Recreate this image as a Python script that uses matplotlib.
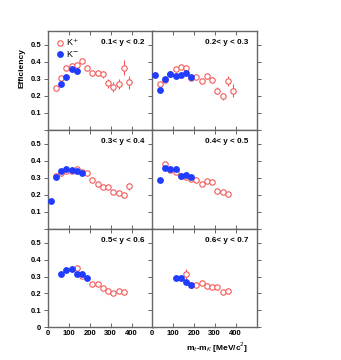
import matplotlib
matplotlib.use("Agg")
import matplotlib.pyplot as plt

plt.rcParams['font.family'] = ['Liberation Sans', 'DejaVu Sans']

labels = ["0.1< y < 0.2", "0.2< y < 0.3", "0.3< y < 0.4",
          "0.4< y < 0.5", "0.5< y < 0.6", "0.6< y < 0.7"]

# K+ (open red) per panel
kp_x = [
    [37.5, 62.5, 87.5, 112.5, 137.5, 162.5, 187.5, 212.5, 237.5, 262.5, 287.5, 312.5, 337.5, 362.5, 387.5],
    [37.5, 62.5, 87.5, 112.5, 137.5, 162.5, 187.5, 212.5, 237.5, 262.5, 287.5, 312.5, 337.5, 362.5, 387.5],
    [37.5, 62.5, 87.5, 112.5, 137.5, 162.5, 187.5, 212.5, 237.5, 262.5, 287.5, 312.5, 337.5, 362.5, 387.5],
    [62.5, 87.5, 112.5, 137.5, 162.5, 187.5, 212.5, 237.5, 262.5, 287.5, 312.5, 337.5, 362.5],
    [137.5, 162.5, 212.5, 237.5, 262.5, 287.5, 312.5, 337.5, 362.5],
    [162.5, 187.5, 212.5, 237.5, 262.5, 287.5, 312.5, 337.5, 362.5],
]
kp_y = [
    [0.243, 0.306, 0.363, 0.373, 0.383, 0.405, 0.365, 0.332, 0.332, 0.326, 0.272, 0.250, 0.268, 0.365, 0.278],
    [0.266, 0.290, 0.330, 0.360, 0.371, 0.363, 0.305, 0.308, 0.284, 0.314, 0.294, 0.230, 0.195, 0.288, 0.230],
    [0.313, 0.330, 0.340, 0.342, 0.349, 0.336, 0.330, 0.287, 0.262, 0.243, 0.247, 0.218, 0.208, 0.199, 0.249],
    [0.384, 0.345, 0.334, 0.310, 0.303, 0.293, 0.287, 0.264, 0.283, 0.272, 0.224, 0.218, 0.204],
    [0.348, 0.303, 0.253, 0.253, 0.233, 0.212, 0.204, 0.212, 0.208],
    [0.315, 0.249, 0.247, 0.259, 0.245, 0.239, 0.237, 0.208, 0.212],
]
kp_err = [
    [0.008, 0.008, 0.008, 0.008, 0.008, 0.008, 0.010, 0.015, 0.015, 0.020, 0.025, 0.028, 0.030, 0.045, 0.040],
    [0.008, 0.008, 0.008, 0.008, 0.008, 0.008, 0.010, 0.010, 0.012, 0.018, 0.015, 0.022, 0.022, 0.030, 0.040],
    [0.006, 0.006, 0.006, 0.006, 0.006, 0.006, 0.006, 0.008, 0.008, 0.008, 0.008, 0.008, 0.010, 0.012, 0.022],
    [0.010, 0.006, 0.006, 0.006, 0.006, 0.006, 0.006, 0.008, 0.008, 0.008, 0.008, 0.008, 0.008],
    [0.010, 0.006, 0.006, 0.006, 0.006, 0.006, 0.006, 0.006, 0.006],
    [0.030, 0.008, 0.006, 0.006, 0.006, 0.006, 0.006, 0.006, 0.006],
]

# K- (filled blue) per panel
km_x = [
    [62.5, 87.5, 112.5, 137.5],
    [12.5, 37.5, 62.5, 87.5, 112.5, 137.5, 162.5, 187.5],
    [12.5, 37.5, 62.5, 87.5, 112.5, 137.5, 162.5],
    [37.5, 62.5, 87.5, 112.5, 137.5, 162.5, 187.5],
    [62.5, 87.5, 112.5, 137.5, 162.5, 187.5],
    [112.5, 137.5, 162.5, 187.5],
]
km_y = [
    [0.268, 0.310, 0.357, 0.344],
    [0.320, 0.235, 0.298, 0.330, 0.314, 0.322, 0.332, 0.308],
    [0.162, 0.303, 0.340, 0.349, 0.345, 0.342, 0.326],
    [0.287, 0.359, 0.349, 0.349, 0.313, 0.316, 0.305],
    [0.315, 0.339, 0.346, 0.317, 0.313, 0.290],
    [0.292, 0.292, 0.270, 0.249],
]

xticks = [0, 100, 200, 300, 400]
yticks = [0, 0.1, 0.2, 0.3, 0.4, 0.5]

RED = '#f25a5a'
BLUE = '#1f3cff'
FRAME = '#666666'

W, H = 341, 360
fig = plt.figure(figsize=(W / 100, H / 100), dpi=100)

col_left = [48, 152]
row_bottom = [129.5, 228.5, 327.3]
pw, ph = 104.5, 98.5

for i in range(6):
    r, c = divmod(i, 2)
    x0 = col_left[c] / W
    y0 = 1 - row_bottom[r] / H
    ax = fig.add_axes([x0, y0, pw / W, ph / H])
    eb = ax.errorbar(kp_x[i], kp_y[i], yerr=kp_err[i], fmt='o', mfc='white', mec=RED,
                     ecolor=RED, mew=0.8, ms=3.9, elinewidth=0.8, capsize=0, zorder=2)
    ln, = ax.plot(km_x[i], km_y[i], 'o', color=BLUE, ms=3.9, mec=BLUE, zorder=3)
    ax.set_xlim(0, 500)
    ax.set_ylim(0, 0.582)
    ax.set_xticks(xticks)
    ax.set_yticks(yticks)
    for s in ax.spines.values():
        s.set_color(FRAME)
        s.set_linewidth(1.0)
    ax.tick_params(axis='x', which='both', direction='in', top=True, bottom=True,
                   length=3, width=0.7, color=FRAME, labelsize=5.5, pad=2)
    ax.tick_params(axis='y', which='both', direction='out', left=True, right=True,
                   length=3, width=0.7, color=FRAME, labelsize=5.5, pad=2)
    if r < 2:
        ax.set_xticklabels([])
    else:
        ax.set_xticklabels([str(v) for v in xticks], fontweight='bold')
    if c == 1:
        ax.set_yticklabels([])
    else:
        first = '' if r < 2 else '0'
        ax.set_yticklabels([first] + ['%.1f' % v for v in yticks[1:]], fontweight='bold')
    ax.text(0.92, 0.88, labels[i], transform=ax.transAxes, ha='right', va='center',
            fontsize=5.8, fontweight='bold')
    if i == 0:
        ax.legend([eb[0], ln], ['K$^{+}$', 'K$^{-}$'], loc='upper left', frameon=False,
                  fontsize=6.5, handletextpad=0.0, borderaxespad=0.3, labelspacing=0.15,
                  handlelength=1.4, borderpad=0.3)
        ax.set_ylabel('Efficiency', fontsize=6, fontweight='bold')
        ax.yaxis.set_label_coords(-0.22, 0.62)
    if i == 5:
        ax.set_xlabel('m$_{t}$-m$_{K}$ [MeV/c$^{2}$]', fontsize=6, fontweight='bold')
        ax.xaxis.set_label_coords(0.62, -0.13)

fig.savefig('out.png', dpi=100)
